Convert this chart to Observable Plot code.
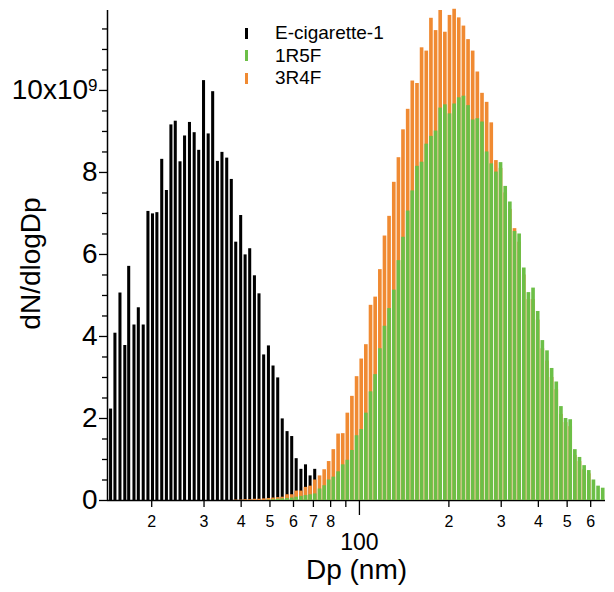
<!DOCTYPE html>
<html><head><meta charset="utf-8">
<script src="https://cdn.jsdelivr.net/npm/d3@7"></script>
<script src="https://cdn.jsdelivr.net/npm/@observablehq/plot@0.6"></script>
<style>
body{margin:0;background:#fff;}
#wrap{position:relative;width:614px;height:592px;font-family:"Liberation Sans",Arial,sans-serif;}
#legend{position:absolute;left:245px;top:22px;font-size:19px;line-height:22.5px;color:#000}
.row{display:flex;align-items:center;height:22.5px}
.sw{width:3px;height:11px;margin-right:27px}
</style></head><body><div id="wrap"><div id="legend"></div></div>
<script>
// SMPS bin midpoint diameters (nm), 64 channels per decade
const diameters = [14.1,14.6,15.1,15.7,16.3,16.8,17.5,18.1,18.8,19.5,20.2,20.9,21.7,22.5,23.3,24.1,25.0,25.9,26.9,27.9,
  28.9,30.0,31.1,32.2,33.4,34.6,35.9,37.2,38.5,40.0,41.4,42.9,44.5,46.1,47.8,49.6,51.4,53.3,55.2,57.3,
  59.4,61.5,63.8,66.1,68.5,71.0,73.7,76.4,79.1,82.0,85.1,88.2,91.4,94.7,98.2,101.8,105.5,109.4,113.4,117.6,
  121.9,126.3,131.0,135.8,140.7,145.9,151.2,156.8,162.5,168.5,174.7,181.1,187.7,194.6,201.7,209.1,216.7,224.7,232.9,241.4,
  250.3,259.5,269.0,278.8,289.0,299.6,310.6,322.0,333.8,346.0,358.7,371.8,385.4,399.5,414.2,429.4,445.1,461.4,478.3,495.8,
  514.0,532.8,552.3,572.5,593.5,615.3,637.8,661.2];

// dN/dlogDp values in units of 1e9
const ecigStart = 1; // first bin: 14.6 nm
const ecig = [2.23,4.08,5.06,3.78,5.71,4.28,4.70,4.28,7.05,6.99,7.02,8.32,7.56,9.16,9.25,8.26,8.89,9.22,8.97,8.54,
  10.24,8.94,9.97,8.27,8.49,8.35,7.83,6.30,6.95,5.99,6.14,5.48,5.04,3.55,3.77,3.28,2.99,1.99,1.68,1.56,
  1.02,0.76,0.87,0.60,0.76];

const r3r4fStart = 28; // first bin: 38.5 nm
const r3r4f = [0.01,0.01,0.02,0.02,0.03,0.03,0.04,0.05,0.06,0.07,0.08,0.14,0.14,0.23,0.23,0.32,0.35,0.50,0.60,0.75,
  0.95,1.24,1.62,1.63,2.13,2.54,3.02,3.45,3.80,4.76,4.96,5.63,6.45,6.93,7.76,8.36,9.04,9.54,10.23,10.17,
  11.04,10.96,11.76,11.46,11.95,11.42,11.83,11.98,11.77,11.57,11.24,10.96,10.45,9.93,9.71,9.21,8.29,8.10,7.50,7.10,
  6.63,6.30,5.50,4.90,4.90,4.40,3.70,3.40,3.00,2.70,2.10,1.90,1.80,1.10,0.95,0.75,0.65];

const r1r5fStart = 35; // first bin: 49.6 nm
const r1r5f = [0.01,0.02,0.03,0.04,0.05,0.06,0.08,0.10,0.12,0.14,0.16,0.28,0.36,0.50,0.57,0.70,0.87,0.98,1.22,1.58,
  1.73,2.13,2.65,3.07,3.70,4.25,4.68,5.13,5.85,6.42,7.06,7.55,8.15,8.25,8.69,8.88,9.01,9.57,9.65,9.43,
  9.67,9.82,9.86,9.63,9.28,9.31,9.23,8.50,8.21,8.01,8.24,7.66,7.28,6.56,6.50,5.67,5.07,5.18,4.61,3.90,
  3.65,3.22,2.89,2.29,2.00,1.97,1.24,1.05,0.85,0.73,0.50,0.35,0.30];

const seriesNames = ["E-cigarette-1", "1R5F", "3R4F"];
const seriesColors = ["#000000", "#6cbf47", "#f08a32"];

const yMajor = [0, 2, 4, 6, 8, 10];
const yMinor = [0.5,1,1.5,2.5,3,3.5,4.5,5,5.5,6.5,7,7.5,8.5,9,9.5,10.5,11,11.5];
const xSmallTicks = [20,30,40,50,60,70,80,90,200,300,400,500,600];
const xSmallLabels = ["2","3","4","5","6","7","8","","2","3","4","5","6"];
const xBigTick = [100];
const xDomain = [14.2, 673];
const yDomain = [0, 11.95];

const chPerDecade = 64;
const edge = Math.pow(10, 1 / (2 * chPerDecade));
function build(vals, start) {
  return vals.map((v, i) => ({d: diameters[start + i], v}));
}
const ecigData = build(ecig, ecigStart);
const r3Data = build(r3r4f, r3r4fStart);
const r1Data = build(r1r5f, r1r5fStart);
const xLabelData = xSmallTicks.map((t, i) => ({t, label: xSmallLabels[i]}));

const font = "Liberation Sans, Arial, sans-serif";
const chart = Plot.plot({
  width: 614, height: 592,
  marginLeft: 107, marginRight: 9, marginTop: 10, marginBottom: 92,
  x: {type: "log", domain: xDomain, axis: null},
  y: {domain: yDomain, axis: null},
  style: {fontFamily: font, background: "white", color: "black", overflow: "visible"},
  marks: [
    Plot.ruleY([0], {stroke: "black", strokeWidth: 1.5}),
    Plot.rect(ecigData, {x1: d => d.d / edge, x2: d => d.d * edge, y1: 0, y2: "v", fill: seriesColors[0], insetLeft: 0.8, insetRight: 0.8}),
    Plot.rect(r3Data, {x1: d => d.d / edge, x2: d => d.d * edge, y1: 0, y2: "v", fill: seriesColors[2], insetLeft: 0.5, insetRight: 0.5}),
    Plot.rect(r1Data, {x1: d => d.d / edge, x2: d => d.d * edge, y1: 0, y2: "v", fill: seriesColors[1], insetLeft: 0.5, insetRight: 0.5}),
    Plot.ruleX([xDomain[0]], {y1: yDomain[0], y2: yDomain[1], stroke: "black", strokeWidth: 1.5}),
    Plot.axisY({ticks: yMajor, tickSize: 8, tickPadding: 2, label: null, fontSize: 28,
      tickFormat: d => d === 10 ? "10x10" : String(d), strokeWidth: 1.3}),
    Plot.axisY({ticks: yMinor, tickSize: 5, label: null, tickFormat: () => "", strokeWidth: 1.3}),
    Plot.axisX({ticks: xSmallTicks, tickSize: 7, label: null, tickFormat: () => "", strokeWidth: 1.3}),
    Plot.text(xLabelData, {x: "t", text: "label", frameAnchor: "bottom", lineAnchor: "top", dy: 15, fontSize: 16}),
    Plot.axisX({ticks: xBigTick, tickSize: 15, tickPadding: 18, label: null, fontSize: 23, strokeWidth: 1.3,
      tickFormat: d => String(d)}),
    Plot.text(["Dp (nm)"], {frameAnchor: "bottom", dy: 70, fontSize: 28, lineAnchor: "middle", textAnchor: "middle", text: d => d}),
    Plot.text(["dN/dlogDp"], {frameAnchor: "left", dx: -76, dy: 8, rotate: -90, fontSize: 28, lineAnchor: "middle", textAnchor: "middle", text: d => d})
  ]
});

// superscript exponent on the top y tick label
chart.querySelectorAll("text").forEach(t => {
  if (t.textContent === "10x10") {
    const ts = document.createElementNS("http://www.w3.org/2000/svg", "tspan");
    ts.setAttribute("dy", "-0.5em");
    ts.setAttribute("font-size", "17");
    ts.textContent = "9";
    t.appendChild(ts);
  }
});

const wrap = document.getElementById("wrap");
wrap.insertBefore(chart, wrap.firstChild);

const legend = document.getElementById("legend");
seriesNames.forEach((name, i) => {
  const row = document.createElement("div");
  row.className = "row";
  const sw = document.createElement("span");
  sw.className = "sw";
  sw.style.background = seriesColors[i];
  const lab = document.createElement("span");
  lab.textContent = name;
  row.appendChild(sw); row.appendChild(lab);
  legend.appendChild(row);
});
</script></body></html>
